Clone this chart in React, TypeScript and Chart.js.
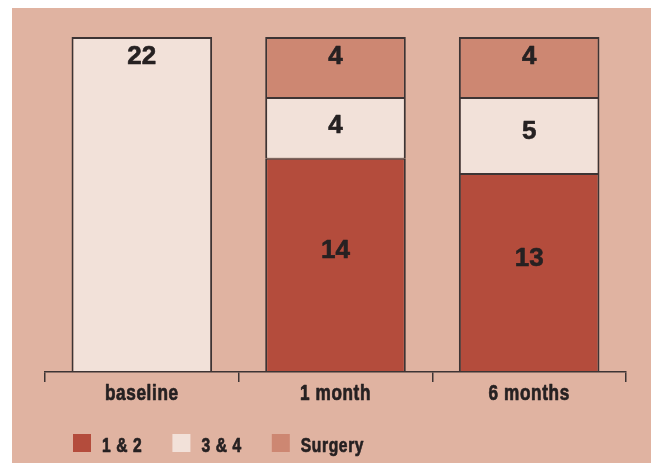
import React, { useEffect, useRef } from "react";
import { Chart, registerables } from "chart.js";

Chart.register(...registerables);

const categories = ["baseline", "1 month", "6 months"];
const seriesNames = ["1 & 2", "3 & 4", "Surgery"];
const grade12 = [0, 14, 13];
const grade34 = [22, 4, 5];
const surgery = [0, 4, 4];
const yMax = 22;

const colors = ["#b44c3c", "#f2e1d9", "#cd8772"];
const BG = "#e0b3a1";
const DARK = "#262122";
const EDGE = "#3d3434";
const SANS = '"Liberation Sans", Arial, sans-serif';
const NARROW_SCALE = 0.78;

function topIndex(chart: any, i: number): number {
  const ds = chart.data.datasets;
  let top = -1;
  for (let d = 0; d < ds.length; d++) {
    if ((ds[d].data[i] as number) > 0) top = d;
  }
  return top;
}

function heavyText(
  ctx: CanvasRenderingContext2D,
  text: string,
  x: number,
  y: number,
  align: CanvasTextAlign,
  sx: number,
  stroke: number,
  spacing: number
) {
  ctx.save();
  ctx.translate(x, y);
  ctx.scale(sx, 1);
  (ctx as any).letterSpacing = `${spacing}px`;
  ctx.textAlign = align;
  ctx.textBaseline = "alphabetic";
  ctx.fillStyle = DARK;
  ctx.strokeStyle = DARK;
  ctx.lineWidth = stroke;
  ctx.lineJoin = "round";
  ctx.fillText(text, 0, 0);
  if (stroke > 0) ctx.strokeText(text, 0, 0);
  ctx.restore();
}

function textWidth(ctx: CanvasRenderingContext2D, text: string, sx: number, spacing: number) {
  ctx.save();
  (ctx as any).letterSpacing = `${spacing}px`;
  const w = ctx.measureText(text).width * sx;
  ctx.restore();
  return w;
}

const labelPlugin = {
  id: "segLabels",
  afterDatasetsDraw(chart: any) {
    const ctx = chart.ctx;
    ctx.save();
    ctx.font = `bold 26px ${SANS}`;
    const capHalf = (26 * 0.716) / 2;
    chart.data.datasets.forEach((ds: any, d: number) => {
      const meta = chart.getDatasetMeta(d);
      meta.data.forEach((bar: any, i: number) => {
        const v = ds.data[i] as number;
        if (!v) return;
        const top = Math.min(bar.y, bar.base);
        const h = Math.abs(bar.base - bar.y);
        const isTop = topIndex(chart, i) === d;
        const cy = isTop ? top + 18 : top + 0.42 * h;
        heavyText(ctx, String(v), bar.x, cy + capHalf, "center", 1, 0.6, 0);
      });
    });
    ctx.restore();
  },
};

const axisLabelPlugin = {
  id: "narrowAxisLabels",
  afterDraw(chart: any) {
    const ctx = chart.ctx;
    const xs = chart.scales.x;
    ctx.save();
    ctx.font = `bold 22px ${SANS}`;
    (chart.data.labels as string[]).forEach((lab, i) => {
      heavyText(ctx, lab, xs.getPixelForTick(i), chart.chartArea.bottom + 28, "center", NARROW_SCALE, 0.7, 0.8);
    });
    ctx.restore();
  },
};

const legendPlugin = {
  id: "customLegend",
  afterDraw(chart: any) {
    const ctx = chart.ctx;
    ctx.save();
    ctx.font = `bold 20px ${SANS}`;
    let x = chart.chartArea.left + 28;
    const boxTop = 426;
    chart.data.datasets.forEach((ds: any) => {
      ctx.fillStyle = ds.backgroundColor;
      ctx.fillRect(x, boxTop, 18, 18);
      const tx = x + 29;
      heavyText(ctx, ds.label, tx, boxTop + 18, "left", NARROW_SCALE, 0.7, 0.8);
      x = tx + textWidth(ctx, ds.label, NARROW_SCALE, 0.8) + 30;
    });
    ctx.restore();
  },
};

export default function App() {
  const ref = useRef<HTMLCanvasElement | null>(null);

  useEffect(() => {
    if (!ref.current) return;
    const series = [grade12, grade34, surgery];
    const chart = new Chart(ref.current, {
      type: "bar",
      data: {
        labels: categories,
        datasets: series.map((data, d) => ({
          label: seriesNames[d],
          data,
          backgroundColor: colors[d],
          borderColor: EDGE,
          borderSkipped: false,
          borderWidth: (c: any) => {
            const v = c.raw as number;
            if (!v) return 0;
            const isTop = topIndex(c.chart, c.dataIndex) === c.datasetIndex;
            return { top: isTop ? 2 : 1, bottom: 1, left: 2, right: 2 };
          },
          barPercentage: 0.726,
          categoryPercentage: 1,
        })),
      },
      plugins: [labelPlugin, axisLabelPlugin, legendPlugin],
      options: {
        animation: false,
        responsive: false,
        maintainAspectRatio: false,
        layout: { padding: { top: 29, left: 33, right: 25, bottom: 51 } },
        plugins: {
          legend: { display: false },
          tooltip: { enabled: false },
        },
        scales: {
          x: {
            stacked: true,
            grid: {
              display: true,
              offset: true,
              drawOnChartArea: false,
              drawTicks: true,
              tickLength: 10,
              color: EDGE,
              lineWidth: 1.5,
            },
            border: { display: true, color: EDGE, width: 1.5 },
            ticks: {
              padding: 0,
              color: "rgba(0,0,0,0)",
              font: { family: SANS, size: 18, weight: "bold" },
            },
            afterFit: (s: any) => {
              s.height = 40;
            },
          },
          y: {
            stacked: true,
            display: false,
            min: 0,
            max: yMax,
          },
        },
      } as any,
    });
    return () => chart.destroy();
  }, []);

  return (
    <div
      style={{
        position: "absolute",
        left: 12,
        top: 8,
        width: 639,
        height: 455,
        background: BG,
      }}
    >
      <canvas ref={ref} width={639} height={455} style={{ display: "block", width: 639, height: 455 }} />
    </div>
  );
}
